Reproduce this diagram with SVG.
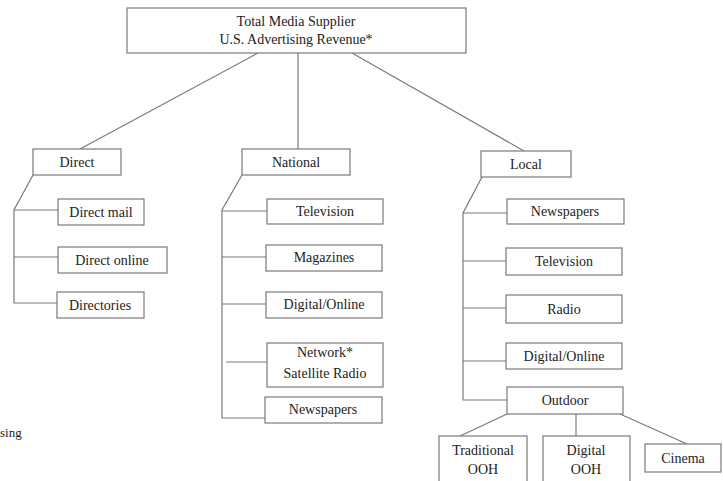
<svg xmlns="http://www.w3.org/2000/svg" width="723" height="481" viewBox="0 0 723 481">
<style>
rect{fill:#fff;stroke:#7a7a7a;stroke-width:1.2}
line,polyline{stroke:#7a7a7a;stroke-width:1.2;fill:none}
text{font-family:"Liberation Serif","Times New Roman",serif;font-size:14px;fill:#222;text-anchor:middle}
</style>
<rect width="723" height="481" style="fill:#fff;stroke:none"/>
<g id="connectors">
<line x1="258" y1="53" x2="80" y2="149"/>
<line x1="298" y1="53" x2="298" y2="149"/>
<line x1="352" y1="53" x2="524" y2="151"/>
<polyline points="33,175 14,210 14,303 57,303"/>
<line x1="14" y1="210" x2="58" y2="210"/>
<line x1="14" y1="257" x2="58" y2="257"/>
<polyline points="242,175 222,210 222,418 265,418"/>
<line x1="222" y1="211" x2="267" y2="211"/>
<line x1="222" y1="257" x2="266" y2="257"/>
<line x1="222" y1="304" x2="266" y2="304"/>
<line x1="226" y1="362" x2="267" y2="362"/>
<polyline points="482,177 463,213 463,400 507,400"/>
<line x1="463" y1="213" x2="507" y2="213"/>
<line x1="463" y1="261" x2="506" y2="261"/>
<line x1="463" y1="308" x2="506" y2="308"/>
<line x1="463" y1="361" x2="506" y2="361"/>
<line x1="507" y1="414" x2="460" y2="436"/>
<line x1="576" y1="414" x2="576" y2="436"/>
<line x1="620" y1="414" x2="687" y2="444"/>
</g>
<g id="root"><rect x="127" y="8" width="339" height="45"/><text x="296" y="26">Total Media Supplier</text><text x="296" y="44">U.S. Advertising Revenue*</text></g>
<g id="direct"><rect x="33" y="149" width="88" height="26"/><text x="77" y="167">Direct</text></g>
<g id="direct-mail"><rect x="58" y="199" width="86" height="26"/><text x="101" y="217">Direct mail</text></g>
<g id="direct-online"><rect x="58" y="247" width="109" height="26"/><text x="112" y="265">Direct online</text></g>
<g id="directories"><rect x="57" y="292" width="87" height="26"/><text x="100" y="310">Directories</text></g>
<g id="national"><rect x="242" y="149" width="108" height="26"/><text x="296" y="167">National</text></g>
<g id="nat-television"><rect x="267" y="199" width="116" height="25"/><text x="325" y="216">Television</text></g>
<g id="nat-magazines"><rect x="266" y="245" width="116" height="26"/><text x="324" y="262">Magazines</text></g>
<g id="nat-digital"><rect x="266" y="292" width="116" height="26"/><text x="324" y="309">Digital/Online</text></g>
<g id="nat-network"><rect x="267" y="343" width="116" height="44"/><text x="325" y="357">Network*</text><text x="325" y="378">Satellite Radio</text></g>
<g id="nat-newspapers"><rect x="265" y="397" width="117" height="26"/><text x="323" y="414">Newspapers</text></g>
<g id="local"><rect x="481" y="151" width="90" height="26"/><text x="526" y="169">Local</text></g>
<g id="loc-newspapers"><rect x="507" y="199" width="117" height="25"/><text x="565" y="216">Newspapers</text></g>
<g id="loc-television"><rect x="506" y="248" width="116" height="27"/><text x="564" y="266">Television</text></g>
<g id="loc-radio"><rect x="506" y="295" width="116" height="28"/><text x="564" y="314">Radio</text></g>
<g id="loc-digital"><rect x="506" y="343" width="116" height="26"/><text x="564" y="361">Digital/Online</text></g>
<g id="outdoor"><rect x="507" y="387" width="116" height="27"/><text x="565" y="405">Outdoor</text></g>
<g id="traditional-ooh"><rect x="439" y="436" width="88" height="55"/><text x="483" y="455">Traditional</text><text x="483" y="474">OOH</text></g>
<g id="digital-ooh"><rect x="543" y="436" width="87" height="55"/><text x="586" y="455">Digital</text><text x="586" y="474">OOH</text></g>
<g id="cinema"><rect x="645" y="444" width="76" height="28"/><text x="683" y="463">Cinema</text></g>
<text x="0" y="437" style="text-anchor:start;font-size:13px">sing</text>
</svg>
